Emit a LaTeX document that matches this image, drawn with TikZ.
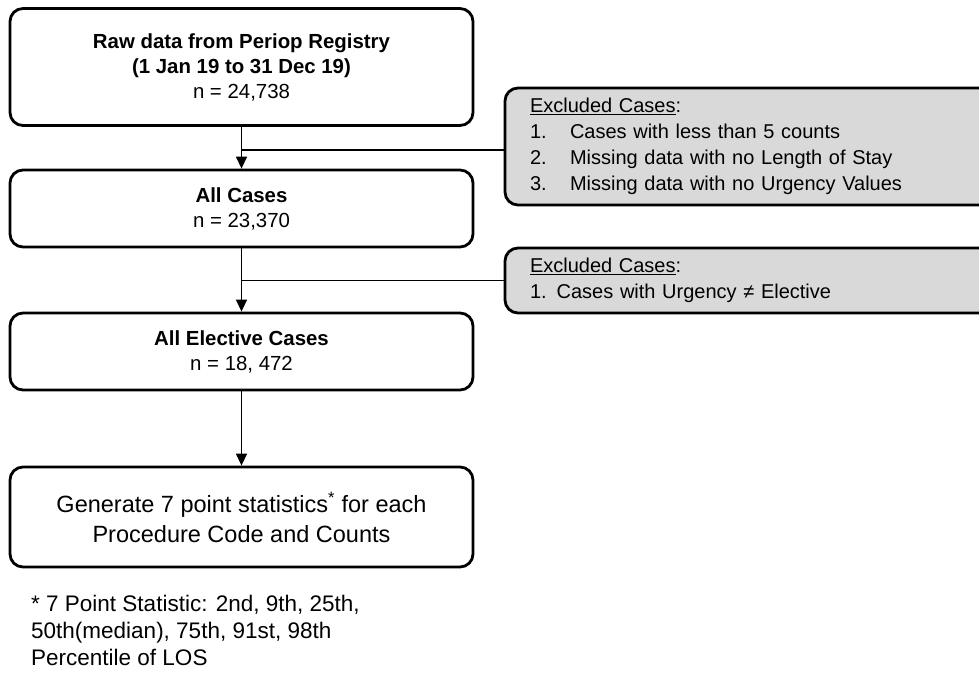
\documentclass[tikz,border=0pt]{standalone}
\usepackage{fontspec}
\setmainfont{Liberation Sans}
\usetikzlibrary{arrows.meta,calc}
\definecolor{exgray}{HTML}{D9D9D9}
\tikzset{
  mainbox/.style={draw=black, line width=2.8pt, rounded corners=13pt, fill=white,
    minimum width=463pt, inner sep=0pt, align=center, font=\fontsize{20.4}{25}\selectfont},
  exbox/.style={draw=black, line width=2.8pt, rounded corners=13pt, fill=exgray,
    minimum width=490pt, text width=440pt, inner xsep=25pt, inner ysep=0pt, align=left,
    font=\fontsize{20}{26}\selectfont},
  flow/.style={line width=1.4pt, -{Triangle[width=11pt,length=12pt]}},
  link/.style={line width=1.4pt},
}
\newcommand{\itm}[1]{\makebox[40pt][l]{#1}}
\begin{document}
\begin{tikzpicture}[x=1pt,y=-1pt]
\useasboundingbox (0,0) rectangle (979,672);
\clip (0,0) rectangle (979,672);
\node[mainbox, minimum height=117pt] (b1) at (241.5,67)
  {\textbf{Raw data from Periop Registry}\\\textbf{(1 Jan 19 to 31 Dec 19)}\\n = 24,738};
\node[mainbox, minimum height=77pt] (b2) at (241.5,208.5)
  {\textbf{All Cases}\\n = 23,370};
\node[mainbox, minimum height=77pt] (b3) at (241.5,351.5)
  {\textbf{All Elective Cases}\\n = 18, 472};
\node[mainbox, minimum height=100pt, font=\fontsize{23.5}{30}\selectfont] (b4) at (241.5,517)
  {Generate 7 point statistics\textsuperscript{*} for each\\Procedure Code and Counts};
\node[exbox, minimum height=117pt] (e1) at (750,146.5)
  {\underline{Excluded Cases}:\\\itm{1.}Cases with less than 5 counts\\\itm{2.}Missing data with no Length of Stay\\\itm{3.}Missing data with no Urgency Values};
\node[exbox, minimum height=65pt] (e2) at (750,280.5)
  {\underline{Excluded Cases}:\\1. Cases with Urgency ≠ Elective};
\node[anchor=west, align=left, inner sep=0pt, font=\fontsize{22.5}{27}\selectfont] (fn) at (31,630)
  {* 7 Point Statistic: 2nd, 9th, 25th,\\50th(median), 75th, 91st, 98th\\Percentile of LOS};
\draw[flow] (b1) -- (b2);
\draw[flow] (b2) -- (b3);
\draw[flow] (b3) -- (b4);
\coordinate (j1) at ($(b1.south)!0.55!(b2.north)$);
\coordinate (j2) at (b2.south |- e2.west);
\draw[link] (j1) -- (j1 -| e1.west);
\draw[link] (j2) -- (e2.west);
\end{tikzpicture}
\end{document}
